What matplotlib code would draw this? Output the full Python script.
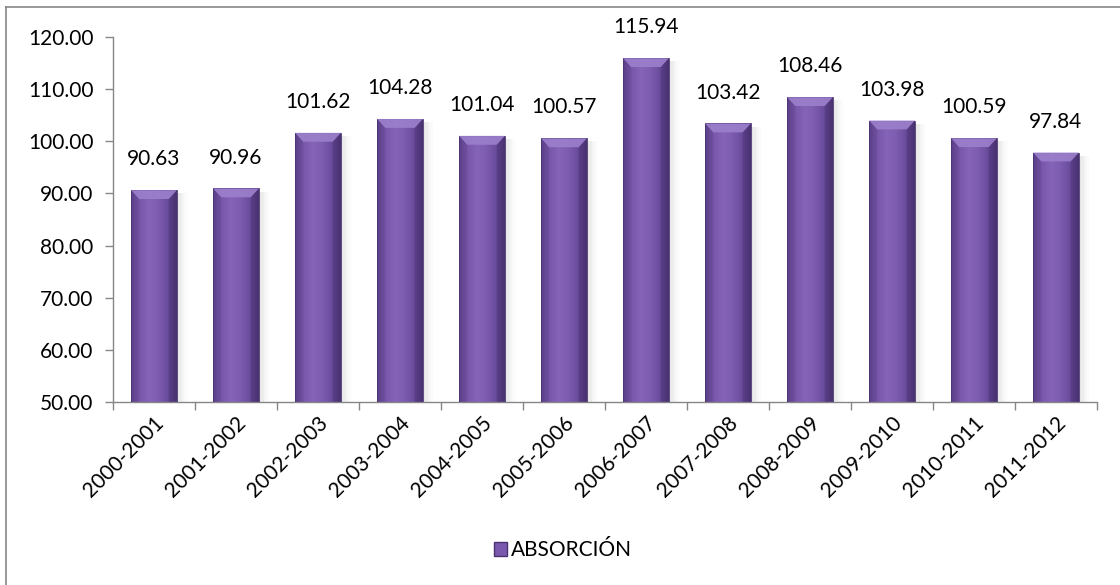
import matplotlib
matplotlib.use("Agg")
import matplotlib.pyplot as plt
import numpy as np
from matplotlib.patches import Rectangle, Polygon, Patch
from matplotlib.lines import Line2D
from matplotlib.colors import LinearSegmentedColormap

categories = ["2000-2001", "2001-2002", "2002-2003", "2003-2004", "2004-2005", "2005-2006",
              "2006-2007", "2007-2008", "2008-2009", "2009-2010", "2010-2011", "2011-2012"]
values = [90.63, 90.96, 101.62, 104.28, 101.04, 100.57, 115.94, 103.42, 108.46, 103.98, 100.59, 97.84]
series_name = "ABSORCIÓN"
yticks = [50, 60, 70, 80, 90, 100, 110, 120]

plt.rcParams['font.family'] = ['Lato', 'DejaVu Sans']
FS = 15

W, H = 1120, 585
fig = plt.figure(figsize=(W / 100, H / 100), dpi=100)
ax = fig.add_axes([113 / W, 1 - 402 / H, (1097 - 113) / W, (402 - 37) / H])

ymin, ymax = 50, 120
ax.set_xlim(-0.5, len(categories) - 0.5)
ax.set_ylim(ymin, ymax)

cmap = LinearSegmentedColormap.from_list(
    "purp", ["#5a3f86", "#7a58ad", "#8565b8", "#7d5cb0", "#6a4c9c", "#4e3677"])
grad = np.linspace(0, 1, 256).reshape(1, -1)
bw = 0.56

for i, v in enumerate(values):
    x0 = i - bw / 2
    # shadow
    for k, a in enumerate([0.10, 0.07, 0.04, 0.02]):
        ax.add_patch(Rectangle((x0 + bw + k * 0.03, ymin), 0.03, v - ymin - 0.6,
                               facecolor="black", alpha=a, lw=0, zorder=1))
    im = ax.imshow(grad, extent=[x0, x0 + bw, ymin, v], aspect='auto', cmap=cmap,
                   zorder=2, interpolation='bicubic')
    rect = Rectangle((x0, ymin), bw, v - ymin, facecolor='none', edgecolor='#4a3370', lw=0.6, zorder=3)
    ax.add_patch(rect)
    im.set_clip_path(rect)
    # top bevel
    bev_h = 1.7
    bev_w = 0.10
    ax.add_patch(Polygon([[x0, v], [x0 + bw, v], [x0 + bw - bev_w, v - bev_h], [x0 + bev_w, v - bev_h]],
                         closed=True, facecolor="#9c80cc", edgecolor='none', alpha=0.9, zorder=3))
    ax.add_patch(Polygon([[x0, v], [x0 + bev_w, v - bev_h], [x0 + bev_w, ymin], [x0, ymin]],
                         closed=True, facecolor="#5a3f86", edgecolor='none', alpha=0.2, zorder=3))
    ax.add_patch(Polygon([[x0 + bw, v], [x0 + bw - bev_w, v - bev_h], [x0 + bw - bev_w, ymin], [x0 + bw, ymin]],
                         closed=True, facecolor="#3a2560", edgecolor='none', alpha=0.25, zorder=3))
    ax.text(i, v + 4.0, f"{v:.2f}", ha='center', va='bottom', fontsize=FS, color='black')

ax.set_yticks(yticks)
ax.set_yticklabels([f"{t:.2f}" for t in yticks], fontsize=FS)
ax.set_xticks(np.arange(len(categories) + 1) - 0.5, minor=False)
ax.set_xticklabels([])
ax.set_xticks(np.arange(len(categories)), minor=True)
ax.set_xticklabels(categories, minor=True, rotation=45, ha='right', va='top',
                   rotation_mode='anchor', fontsize=FS)
ax.tick_params(axis='x', which='minor', length=0, pad=8)
ax.tick_params(axis='x', which='major', length=6, color='#868686', width=1)
ax.tick_params(axis='y', length=6, color='#868686', width=1, pad=8)

for s in ['top', 'right']:
    ax.spines[s].set_visible(False)
for s in ['left', 'bottom']:
    ax.spines[s].set_color('#868686')
    ax.spines[s].set_linewidth(1)

# legend
h = Patch(facecolor="#7a58ad", edgecolor="#4a3370", label=series_name)
fig.legend(handles=[h], loc='center', bbox_to_anchor=(563 / W, 1 - 550 / H), frameon=False,
           fontsize=FS, handlelength=0.65, handleheight=0.65, handletextpad=0.2)

# outer border (left and top)
fig.add_artist(Line2D([6 / W, 6 / W], [0, 1 - 7 / H], transform=fig.transFigure, color='#868686', lw=1.2))
fig.add_artist(Line2D([6 / W, 1], [1 - 7 / H, 1 - 7 / H], transform=fig.transFigure, color='#868686', lw=1.2))

fig.savefig("out.png", dpi=100, facecolor='white')
